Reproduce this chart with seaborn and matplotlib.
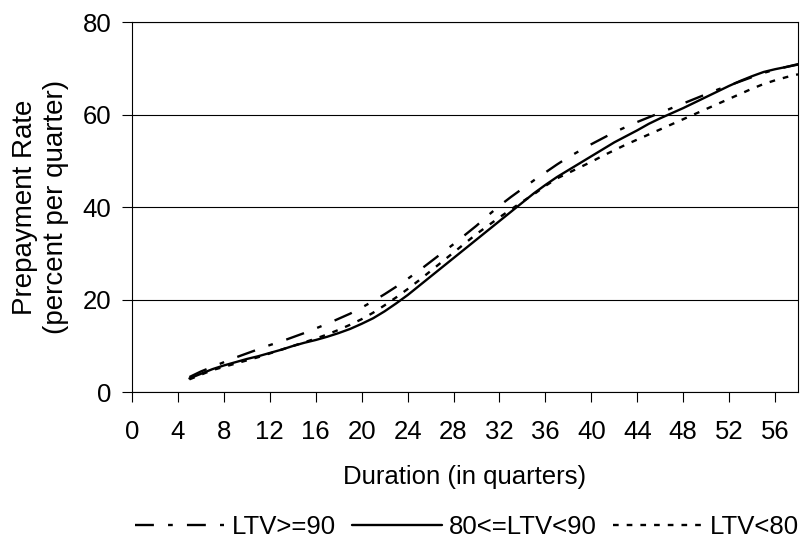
import numpy as np
import pandas as pd
import seaborn as sns
import matplotlib.pyplot as plt

# quarters since origination
quarters = list(range(5, 59))

# prepayment rate, percent per quarter
ltv_90_plus = [3.3, 4.5, 5.5, 6.5, 7.5, 8.4, 9.3, 10.2, 11.0, 11.9, 12.8, 13.8, 14.8, 15.9,
               17.0, 18.3, 19.7, 21.2, 22.8, 24.5, 26.3, 28.2, 30.1, 32.0, 34.0, 36.0, 38.2,
               40.3, 42.2, 44.0, 45.8, 47.5, 49.2, 50.8, 52.2, 53.6, 54.9, 56.2, 57.3, 58.4,
               59.4, 60.4, 61.4, 62.4, 63.4, 64.4, 65.4, 66.3, 67.2, 68.1, 69.0, 69.7, 70.3, 70.8]
ltv_80_90 = [3.0, 4.0, 5.0, 5.8, 6.5, 7.2, 7.8, 8.5, 9.2, 10.0, 10.7, 11.3, 12.0, 12.8,
             13.7, 14.8, 16.0, 17.5, 19.2, 21.0, 23.0, 25.0, 27.0, 29.0, 31.0, 33.0, 35.0,
             37.0, 39.0, 41.0, 43.0, 44.8, 46.5, 48.0, 49.5, 51.0, 52.5, 54.0, 55.3, 56.6,
             58.0, 59.2, 60.3, 61.4, 62.6, 63.8, 65.0, 66.2, 67.3, 68.3, 69.2, 69.8, 70.3, 70.9]
ltv_below_80 = [2.8, 3.8, 4.8, 5.5, 6.2, 6.9, 7.6, 8.4, 9.2, 10.0, 10.8, 11.6, 12.5, 13.5,
                14.6, 15.8, 17.2, 18.8, 20.5, 22.3, 24.2, 26.2, 28.2, 30.2, 32.2, 34.2, 36.0,
                37.8, 39.5, 41.2, 42.8, 44.6, 46.2, 47.4, 48.6, 49.8, 51.1, 52.3, 53.5, 54.6,
                55.7, 56.8, 57.9, 59.0, 60.1, 61.2, 62.3, 63.4, 64.5, 65.6, 66.6, 67.4, 68.1, 68.7]

groups = ['LTV>=90', '80<=LTV<90', 'LTV<80']

df = pd.DataFrame({
    'Duration': quarters * 3,
    'Rate': ltv_90_plus + ltv_80_90 + ltv_below_80,
    'Group': np.repeat(groups, len(quarters)),
})

sns.set_theme(style='white')
plt.rcParams['font.family'] = ['Liberation Sans', 'DejaVu Sans']
plt.rcParams.update({'text.color': 'black', 'axes.labelcolor': 'black',
                     'xtick.color': 'black', 'ytick.color': 'black'})

fig = plt.figure(figsize=(8.01, 5.38), dpi=100)
ax = fig.add_axes([0.1648, 0.2708, 0.9963 - 0.1648, 0.9591 - 0.2708])

sns.lineplot(data=df, x='Duration', y='Rate', hue='Group', style='Group',
             hue_order=groups, style_order=groups,
             palette={g: 'black' for g in groups},
             dashes={'LTV>=90': (8, 6, 2, 6), '80<=LTV<90': '', 'LTV<80': (2.4, 3.4)},
             linewidth=1.7, errorbar=None, legend=False, ax=ax)

ax.set_xlim(0, 58)
ax.set_ylim(0, 80)
ax.set_xticks(range(0, 57, 4))
ax.set_yticks([0, 20, 40, 60, 80])
ax.yaxis.grid(True, color='black', linewidth=0.8)
for s in ax.spines.values():
    s.set_color('black')
    s.set_linewidth(0.8)
ax.tick_params(axis='both', direction='out', length=7, width=0.8, color='black',
               labelsize=18.5, left=True, bottom=True)
ax.tick_params(axis='x', pad=13)
ax.tick_params(axis='y', pad=8)

ax.set_xlabel('Duration (in quarters)', fontsize=18.5, labelpad=15)
ax.set_ylabel('Prepayment Rate\n(percent per quarter)', fontsize=20, labelpad=10,
              linespacing=1.25)

ax.legend(ax.lines[:3], groups, loc='center', bbox_to_anchor=(0.583, 0.02),
          bbox_transform=fig.transFigure, ncol=3, frameon=False, fontsize=18.5,
          handlelength=3.5, handletextpad=0.3, columnspacing=0.6, borderpad=0)

fig.savefig('out.png', dpi=100)
